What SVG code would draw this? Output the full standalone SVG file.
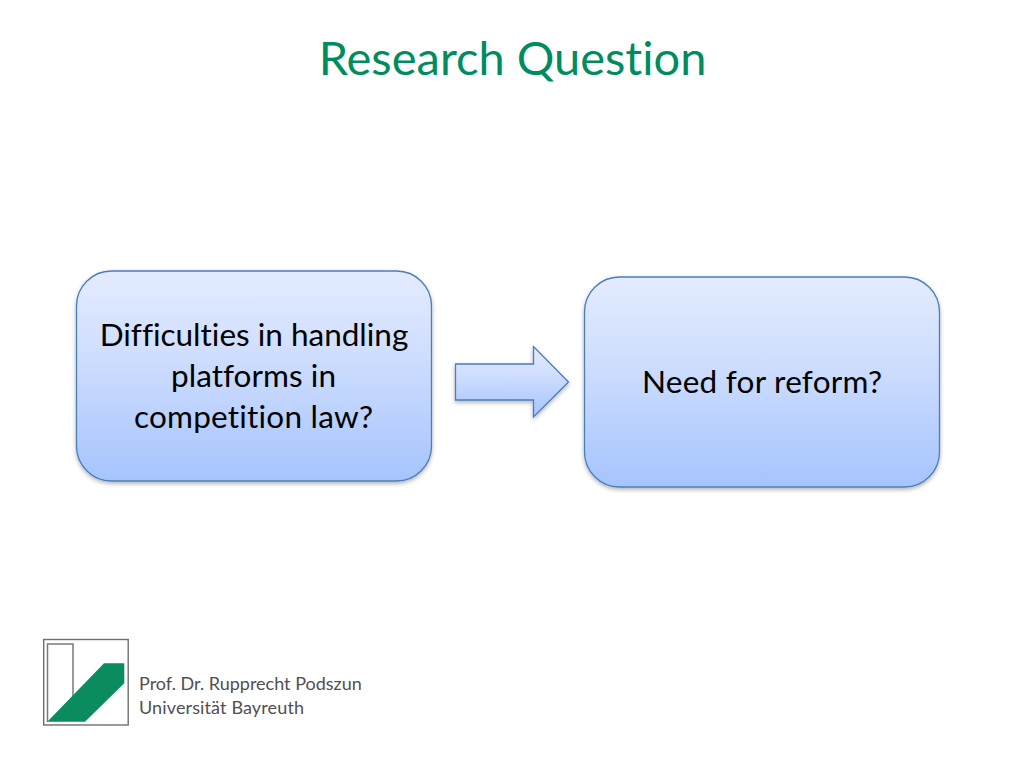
<svg xmlns="http://www.w3.org/2000/svg" width="1024" height="768" viewBox="0 0 1024 768">
<defs>
<linearGradient id="g" x1="0" y1="0" x2="0" y2="1"><stop offset="0" stop-color="#e3ebff"/><stop offset="0.35" stop-color="#d2e0fe"/><stop offset="1" stop-color="#a6c4fd"/></linearGradient>
<filter id="s" x="-10%" y="-10%" width="120%" height="125%"><feDropShadow dx="0" dy="2" stdDeviation="2" flood-color="#000" flood-opacity="0.3"/></filter>
</defs>
<style>
text{font-family:Lato,"Noto Sans","Liberation Sans",sans-serif;fill:#000;font-variant-ligatures:none}
.b{fill:url(#g);stroke:#4a7ebb;stroke-width:1.300;filter:url(#s)}
.t{font-size:31.500px;text-anchor:middle}
.f{font-size:18px;fill:#505050}
</style>
<rect width="1024" height="768" fill="#fff"/>
<text id="title" x="512.500" y="74.500" text-anchor="middle" style="font-size:47px;fill:#008c5f">Research Question</text>
<g id="node1"><rect class="b" x="76.500" y="271" width="355" height="210" rx="35"/>
<text class="t" x="254" y="346">Difficulties in handling</text><text class="t" x="253.500" y="387" textLength="165">platforms in</text><text class="t" x="253.500" y="428" textLength="239">competition law?</text></g>
<g id="node2"><rect class="b" x="584.500" y="277" width="355" height="210" rx="35"/>
<text class="t" x="762" y="393" textLength="240">Need for reform?</text></g>
<g id="connectors"><path class="b" d="M455.500 364H533.500V346.500L568.500 382L533.500 417V400H455.500Z"/></g>
<g id="logo"><rect x="43.700" y="639.500" width="84.500" height="85.500" fill="#fff" stroke="#6e6e6e" stroke-width="1.400"/>
<path d="M47.500 722V644H73V698" fill="none" stroke="#7a7a7a" stroke-width="1.500"/>
<path d="M47.300 721.700L104 663.300H124.300V683.300L85 721.700Z" fill="#0b8c5f"/></g>
<g id="footer"><text class="f" x="139" y="690">Prof. Dr. Rupprecht Podszun</text><text class="f" x="139" y="714" textLength="165">Universität Bayreuth</text></g>
</svg>
